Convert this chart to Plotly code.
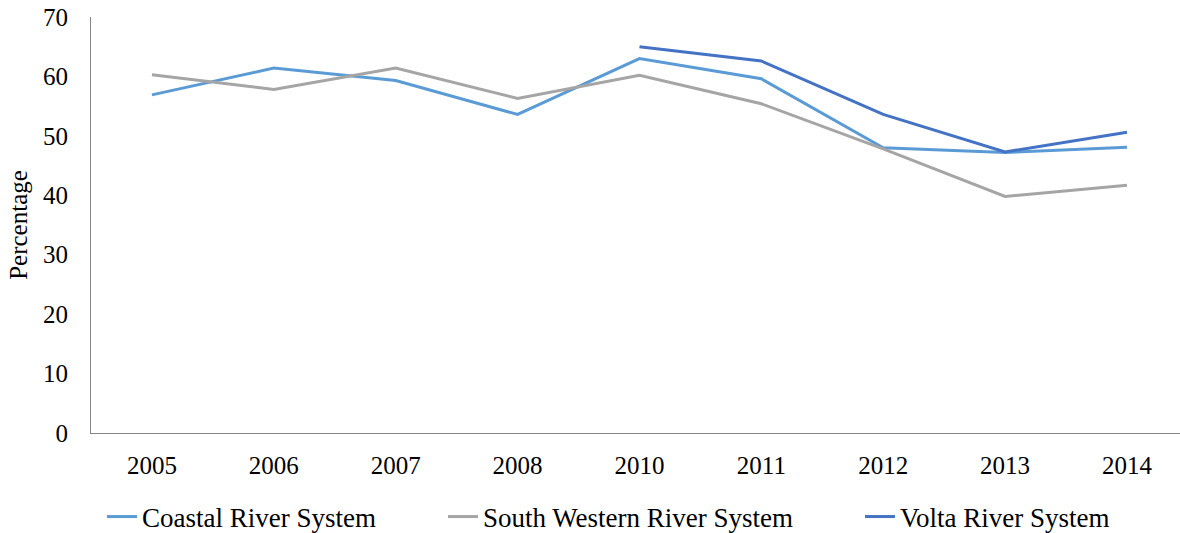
import plotly.graph_objects as go

years = ["2005", "2006", "2007", "2008", "2010", "2011", "2012", "2013", "2014"]
coastal = [56.9, 61.4, 59.3, 53.6, 63.0, 59.6, 48.0, 47.2, 48.1]
south_western = [60.3, 57.8, 61.4, 56.3, 60.2, 55.4, 47.8, 39.8, 41.7]
volta = [None, None, None, None, 65.0, 62.6, 53.6, 47.3, 50.6]

FONT = "Liberation Serif"
W, H = 1180, 533
L, R, T, B = 91, 0, 17, 100

fig = go.Figure()
fig.add_trace(go.Scatter(x=years, y=coastal, mode="lines", name="Coastal River System",
                         line=dict(color="#5B9BD5", width=3), legend="legend", showlegend=True))
fig.add_trace(go.Scatter(x=years, y=south_western, mode="lines", name="South Western River System",
                         line=dict(color="#A5A5A5", width=3), legend="legend2", showlegend=True))
fig.add_trace(go.Scatter(x=years, y=volta, mode="lines", name="Volta River System",
                         line=dict(color="#4472C4", width=3), legend="legend3", showlegend=True,
                         connectgaps=False))

leg_common = dict(orientation="h", yanchor="middle", xanchor="left",
                  xref="container", yref="container", y=1 - 517 / H,
                  font=dict(family=FONT, size=27, color="#000000"),
                  bgcolor="rgba(0,0,0,0)", borderwidth=0)

fig.update_layout(
    width=W, height=H,
    showlegend=True,
    margin=dict(l=L, r=R, t=T, b=B, pad=0, autoexpand=False),
    paper_bgcolor="white", plot_bgcolor="white",
    font=dict(family=FONT, size=25, color="#000000"),
    legend=dict(x=102 / W, **leg_common),
    legend2=dict(x=443 / W, **leg_common),
    legend3=dict(x=860 / W, **leg_common),
    xaxis=dict(type="category", range=[-0.5, 8.435], showgrid=False, zeroline=False,
               showline=True, linecolor="#868686", linewidth=1, ticks="", automargin=False,
               tickfont=dict(family=FONT, size=25, color="#000000"), ticklabelstandoff=10),
    yaxis=dict(range=[0, 70], dtick=10, showgrid=False, zeroline=False,
               showline=True, linecolor="#868686", linewidth=1, ticks="", automargin=False,
               tickfont=dict(family=FONT, size=25, color="#000000"), ticklabelstandoff=17,
               title=dict(text="Percentage", font=dict(family=FONT, size=25, color="#000000"), standoff=8)),
)

fig.write_html("out.html", config={"displayModeBar": False},
               post_script="document.body.style.margin='0';document.body.style.overflow='hidden';")
